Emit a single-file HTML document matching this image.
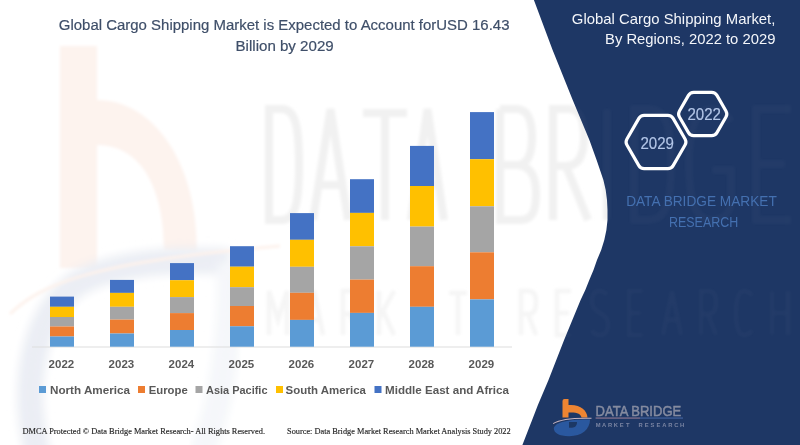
<!DOCTYPE html>
<html><head><meta charset="utf-8">
<style>
html,body{margin:0;padding:0;}
body{width:800px;height:445px;overflow:hidden;background:#fff;position:relative;font-family:"Liberation Sans",sans-serif;}
svg{position:absolute;left:0;top:0;}
</style></head>
<body>
<svg width="800" height="445" viewBox="0 0 800 445" font-family="Liberation Sans, sans-serif">
<rect width="800" height="445" fill="#ffffff"/>
<!-- watermark logo (left) -->
<defs><filter id="bl" x="-20%" y="-20%" width="140%" height="140%"><feGaussianBlur stdDeviation="1.8"/></filter><filter id="bl2" x="-30%" y="-30%" width="160%" height="160%"><feGaussianBlur stdDeviation="4"/></filter></defs>
<g filter="url(#bl)">
<path d="M60,46 H97 V268 H60 Z" fill="#FDF3EE"/>
<path d="M97,100 C152,100 197,160 197,250 L164,250 C164,190 142,145 97,145 Z" fill="#FDF3EE"/>
<path d="M38,455 C22,390 30,320 75,285 C110,264 170,258 230,262" fill="none" stroke="#EBEEF4" stroke-width="26" filter="url(#bl2)"/>
<path d="M230,262 C232,330 222,410 200,455" fill="none" stroke="#F5F7FA" stroke-width="26" filter="url(#bl2)"/>
<path d="M10,314 C40,285 90,262 280,246" fill="none" stroke="#FDF2EC" stroke-width="3"/>
</g>
<g id="wmtext" filter="url(#bl)" fill="none" stroke-linejoin="miter">
<path stroke="#F1F1F1" stroke-width="8" d="M269,109 V220 H282 C296,220 299,200 299,164.5 C299,129 296,109 282,109 Z M313,220 L330.5,109 L348,220 M319,185 H342 M363,113 H407 M385,113 V220 M411,220 L427.5,109 L444,220 M417,185 H438 M500,109 V220 H520 C533,220 536,210 536,193 C536,176 530,166 518,165 H500 M518,165 C528,164 532,154 532,137 C532,118 527,109 516,109 H500 M553,220 V109 H568 C580,109 584,118 584,137 C584,156 578,166 566,166 H553 M566,166 L588,220 M607,109 V220 M634,109 V220 H649 C667,220 671,200 671,164.5 C671,129 667,109 649,109 Z M731,122 C726,112 720,109 711,109 C695,109 689,130 689,164.5 C689,200 695,220 711,220 C722,220 731,214 731,200 V170 H712 M791,109 H756 V220 H791 M756,164 H785"/>
<path stroke="#F5F5F5" stroke-width="4.5" d="M269,335 V291 L278,320 L287,291 V335 M305,335 L314,291 L323,335 M309,320 H319 M343,335 V291 H350 C357,291 358,296 358,303 C358,311 355,314 350,314 H343 M350,314 L358,335 M379,291 V335 M394,291 L379,318 M383,311 L394,335 M429,291 H415 V335 H429 M415,313 H427 M449,293 H467 M458,293 V335 M521,335 V291 H528 C535,291 536,296 536,303 C536,311 533,314 528,314 H521 M528,314 L536,335 M571,291 H557 V335 H571 M557,313 H569 M607,295 C604,291 601,291 599,291 C594,291 592,295 592,301 C592,308 595,310 600,313 C605,316 608,318 608,325 C608,331 605,335 600,335 C596,335 593,333 592,330 M643,291 H629 V335 H643 M629,313 H641 M663,335 L672,291 L681,335 M667,320 H677 M701,335 V291 H708 C715,291 716,296 716,303 C716,311 713,314 708,314 H701 M708,314 L716,335 M752,296 C750,292 747,291 744,291 C738,291 736,300 736,313 C736,326 738,335 744,335 C747,335 750,334 752,330 M772,291 V335 M788,291 V335 M772,313 H788"/>
</g>
<!-- navy panel -->
<polygon points="533.9,0 552.6,50 572.7,100 589.4,140 596.6,160 603.4,180 605.7,190 607,200 607.5,210 607.5,220 606.4,230 604.3,240 601.2,250 597,260 593.5,270 589.3,280 585.3,290 580.6,300 564.1,340 548.5,380 537.9,405 522.4,445 800,445 800,0" fill="#1E3765"/>
<clipPath id="navclip"><polygon points="533.9,0 552.6,50 572.7,100 589.4,140 596.6,160 603.4,180 605.7,190 607,200 607.5,210 607.5,220 606.4,230 604.3,240 601.2,250 597,260 593.5,270 589.3,280 585.3,290 580.6,300 564.1,340 548.5,380 537.9,405 522.4,445 800,445 800,0"/></clipPath>
<g clip-path="url(#navclip)" opacity="0.025"><use href="#wmtext" style="fill:#fff"/></g>
<!-- title -->
<text x="58.8" y="30.3" font-size="15.4" fill="#3F4F69" stroke="#3F4F69" stroke-width="0.2" textLength="450.7" lengthAdjust="spacingAndGlyphs">Global Cargo Shipping Market is Expected to Account forUSD 16.43</text>
<text x="235.5" y="50.5" font-size="15.4" fill="#3F4F69" stroke="#3F4F69" stroke-width="0.2" textLength="98.2" lengthAdjust="spacingAndGlyphs">Billion by 2029</text>
<!-- axis -->
<rect x="32" y="346.5" width="480" height="1" fill="#DEDEDE"/>
<rect x="50" y="296.6" width="24" height="10.2" fill="#4472C4"/><rect x="50" y="306.8" width="24" height="10.2" fill="#FFC000"/><rect x="50" y="317" width="24" height="9.5" fill="#A5A5A5"/><rect x="50" y="326.5" width="24" height="10.0" fill="#ED7D31"/><rect x="50" y="336.5" width="24" height="10.2" fill="#5B9BD5"/><rect x="110" y="279.9" width="24" height="13.0" fill="#4472C4"/><rect x="110" y="292.9" width="24" height="13.9" fill="#FFC000"/><rect x="110" y="306.8" width="24" height="12.8" fill="#A5A5A5"/><rect x="110" y="319.6" width="24" height="13.9" fill="#ED7D31"/><rect x="110" y="333.5" width="24" height="13.2" fill="#5B9BD5"/><rect x="170" y="263.1" width="24" height="17.1" fill="#4472C4"/><rect x="170" y="280.2" width="24" height="16.9" fill="#FFC000"/><rect x="170" y="297.1" width="24" height="16.0" fill="#A5A5A5"/><rect x="170" y="313.1" width="24" height="16.9" fill="#ED7D31"/><rect x="170" y="330" width="24" height="16.7" fill="#5B9BD5"/><rect x="230" y="246.2" width="24" height="20.5" fill="#4472C4"/><rect x="230" y="266.7" width="24" height="20.5" fill="#FFC000"/><rect x="230" y="287.2" width="24" height="18.8" fill="#A5A5A5"/><rect x="230" y="306" width="24" height="20.3" fill="#ED7D31"/><rect x="230" y="326.3" width="24" height="20.4" fill="#5B9BD5"/><rect x="290" y="213.1" width="24" height="26.7" fill="#4472C4"/><rect x="290" y="239.8" width="24" height="27.0" fill="#FFC000"/><rect x="290" y="266.8" width="24" height="26.0" fill="#A5A5A5"/><rect x="290" y="292.8" width="24" height="27.1" fill="#ED7D31"/><rect x="290" y="319.9" width="24" height="26.8" fill="#5B9BD5"/><rect x="350" y="179.2" width="24" height="33.7" fill="#4472C4"/><rect x="350" y="212.9" width="24" height="33.4" fill="#FFC000"/><rect x="350" y="246.3" width="24" height="33.3" fill="#A5A5A5"/><rect x="350" y="279.6" width="24" height="33.3" fill="#ED7D31"/><rect x="350" y="312.9" width="24" height="33.8" fill="#5B9BD5"/><rect x="410" y="145.9" width="24" height="40.1" fill="#4472C4"/><rect x="410" y="186" width="24" height="40.6" fill="#FFC000"/><rect x="410" y="226.6" width="24" height="39.6" fill="#A5A5A5"/><rect x="410" y="266.2" width="24" height="40.6" fill="#ED7D31"/><rect x="410" y="306.8" width="24" height="39.9" fill="#5B9BD5"/><rect x="470" y="112.1" width="24" height="47.1" fill="#4472C4"/><rect x="470" y="159.2" width="24" height="47.1" fill="#FFC000"/><rect x="470" y="206.3" width="24" height="46.0" fill="#A5A5A5"/><rect x="470" y="252.3" width="24" height="47.1" fill="#ED7D31"/><rect x="470" y="299.4" width="24" height="47.3" fill="#5B9BD5"/>
<!-- year labels -->
<g font-size="11.5" font-weight="bold" fill="#595959" text-anchor="middle">
<text x="61.4" y="368">2022</text><text x="121.4" y="368">2023</text><text x="181.4" y="368">2024</text><text x="241.4" y="368">2025</text>
<text x="301.4" y="368">2026</text><text x="361.4" y="368">2027</text><text x="421.4" y="368">2028</text><text x="481.4" y="368">2029</text>
</g>
<!-- legend -->
<rect x="39" y="386" width="7" height="7" fill="#5B9BD5"/>
<rect x="138" y="386" width="7" height="7" fill="#ED7D31"/>
<rect x="195.5" y="386" width="7" height="7" fill="#A5A5A5"/>
<rect x="276" y="386" width="7" height="7" fill="#FFC000"/>
<rect x="374.5" y="386" width="7" height="7" fill="#4472C4"/>
<g font-size="11.3" font-weight="bold" fill="#595959">
<text x="50" y="393.6" textLength="80" lengthAdjust="spacingAndGlyphs">North America</text>
<text x="148.7" y="393.6" textLength="39" lengthAdjust="spacingAndGlyphs">Europe</text>
<text x="206" y="393.6" textLength="61.5" lengthAdjust="spacingAndGlyphs">Asia Pacific</text>
<text x="285.6" y="393.6" textLength="80.4" lengthAdjust="spacingAndGlyphs">South America</text>
<text x="385" y="393.6" textLength="124" lengthAdjust="spacingAndGlyphs">Middle East and Africa</text>
</g>
<!-- footer -->
<g font-family="Liberation Serif, serif" font-size="8.5" fill="#262626" stroke="#262626" stroke-width="0.15">
<text x="22.5" y="433.8" textLength="242.5" lengthAdjust="spacingAndGlyphs">DMCA Protected © Data Bridge  Market Research- All Rights Reserved.</text>
<text x="287" y="433.8" textLength="223.7" lengthAdjust="spacingAndGlyphs">Source: Data Bridge Market Research Market Analysis Study 2022</text>
</g>
<!-- right panel title -->
<g font-size="14.8" fill="#F4F6FA" text-anchor="end">
<text x="775.4" y="23.9" textLength="203.6" lengthAdjust="spacingAndGlyphs">Global Cargo Shipping Market,</text>
<text x="775.4" y="43.8" textLength="170.4" lengthAdjust="spacingAndGlyphs">By Regions, 2022 to 2029</text>
</g>
<!-- hexagons -->
<path d="M685.05,138.97 Q686.80,142.00 685.05,145.03 L673.15,165.64 Q671.40,168.67 667.90,168.67 L644.10,168.67 Q640.60,168.67 638.85,165.64 L626.95,145.03 Q625.20,142.00 626.95,138.97 L638.85,118.36 Q640.60,115.33 644.10,115.33 L667.90,115.33 Q671.40,115.33 673.15,118.36 Z" fill="none" stroke="#FFFFFF" stroke-width="3.2" stroke-linejoin="round"/>
<path d="M725.95,110.97 Q727.70,114.00 725.95,117.03 L716.95,132.62 Q715.20,135.65 711.70,135.65 L693.70,135.65 Q690.20,135.65 688.45,132.62 L679.45,117.03 Q677.70,114.00 679.45,110.97 L688.45,95.38 Q690.20,92.35 693.70,92.35 L711.70,92.35 Q715.20,92.35 716.95,95.38 Z" fill="none" stroke="#FFFFFF" stroke-width="3.2" stroke-linejoin="round"/>
<g font-size="15.8" fill="#B3C6E8" stroke="#B3C6E8" stroke-width="0.15">
<text x="640.5" y="148.6" textLength="33.5" lengthAdjust="spacingAndGlyphs">2029</text>
<text x="687.5" y="119.8" textLength="33.5" lengthAdjust="spacingAndGlyphs">2022</text>
</g>
<g font-size="15.3" fill="#4470B0" text-anchor="middle">
<text x="701.5" y="206.4" textLength="150.7" lengthAdjust="spacingAndGlyphs">DATA BRIDGE MARKET</text>
<text x="703.6" y="226.6" textLength="69.3" lengthAdjust="spacingAndGlyphs">RESEARCH</text>
</g>
<!-- bottom logo -->
<defs><filter id="sb"><feGaussianBlur stdDeviation="0.35"/></filter></defs>
<g filter="url(#sb)">
<path d="M553.8,428 C556,421 572,419.5 590,419.5 C590,429 582,436.2 569,436.2 C559,436.2 553.8,433 553.8,428 Z" fill="#2C599F"/>
<path d="M569,422 H577 C577,426 575,427.7 572,427.7 H569 Z" fill="#1E3765"/>
<path d="M562.5,401 Q562.5,399 564.5,399 H568.5 V405 C580,404 587,410 587.5,417.5 L581.5,417.5 C581,414 577,412 568.5,412.5 V417.5 H562.5 Z" fill="#EE8533"/>
<path d="M553.1,423.6 C560,419.5 570,417.7 591.5,418.3" fill="none" stroke="#C8B4BE" stroke-width="1.1"/>
<text x="595.6" y="415.5" font-size="15" fill="#858BA0" stroke="#858BA0" stroke-width="0.5" textLength="85.6" lengthAdjust="spacingAndGlyphs">DATA BRIDGE</text>
<rect x="595.6" y="417.6" width="44.4" height="0.9" fill="#B08A9E"/>
<rect x="640" y="417.6" width="43" height="0.9" fill="#4A6FB0"/>
<g font-size="5.8" font-weight="bold" fill="#7A84A2" text-anchor="middle"><text x="598.2 604.1 610.0 615.9 621.8 627.7" y="426.5">MARKET</text><text x="640.6 646.6 652.5 658.5 664.4 670.4 676.3 682.2" y="426.5">RESEARCH</text></g>
</g>
</svg>
</body></html>
